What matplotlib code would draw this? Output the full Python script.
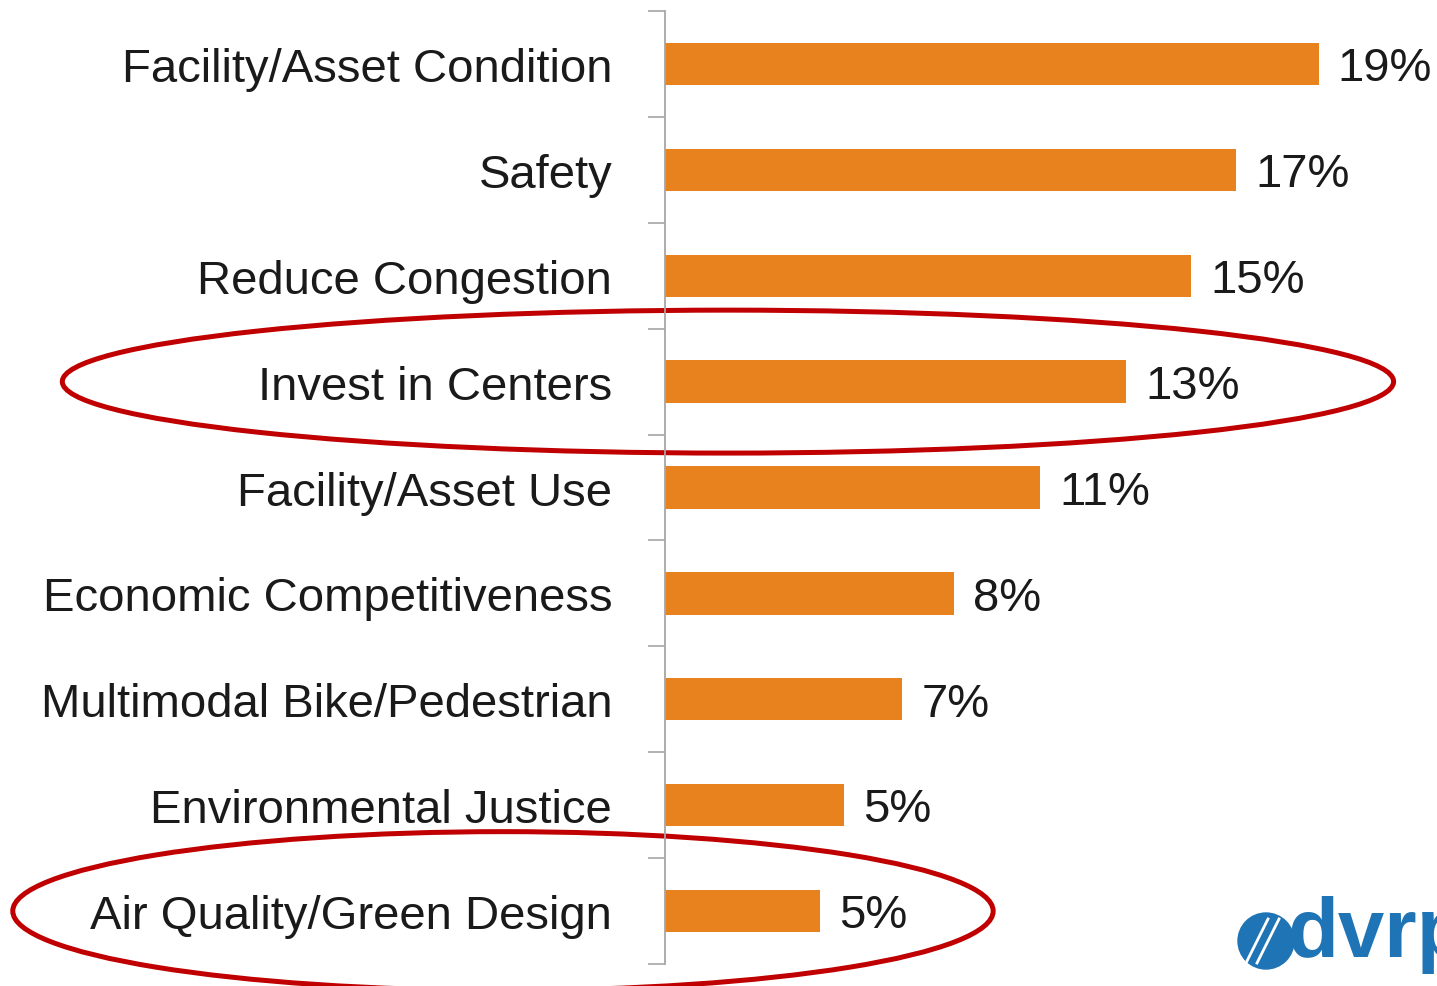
import matplotlib.pyplot as plt
import numpy as np
from matplotlib.patches import Ellipse
from matplotlib.lines import Line2D

# priorities and share of responses (bar lengths)
categories = [
    "Facility/Asset Condition",
    "Safety",
    "Reduce Congestion",
    "Invest in Centers",
    "Facility/Asset Use",
    "Economic Competitiveness",
    "Multimodal Bike/Pedestrian",
    "Environmental Justice",
    "Air Quality/Green Design",
]
values = [19.0, 16.6, 15.3, 13.4, 10.9, 8.4, 6.9, 5.2, 4.5]
value_labels = ["19%", "17%", "15%", "13%", "11%", "8%", "7%", "5%", "5%"]
highlighted = ["Invest in Centers", "Air Quality/Green Design"]

bar_color = "#E8821E"
circle_color = "#C00000"
logo_blue = "#1F74B5"
fam = ["Liberation Sans Narrow", "Liberation Sans", "DejaVu Sans"]

W, H = 1437, 987
fig = plt.figure(figsize=(W / 100, H / 100), dpi=100)
ax = fig.add_axes([665 / W, 22 / H, (W - 665) / W, 953 / H])

y = np.arange(len(categories))
ax.barh(y, values, height=0.4, color=bar_color)

ax.set_xlim(0, (W - 665) / 34.4)
ax.set_ylim(len(categories) - 0.5, -0.5)

for yi, v, lab in zip(y, values, value_labels):
    ax.text(v + 0.55, yi + 0.04, lab, va="center", ha="left", fontsize=34,
            family=fam, color="#1a1a1a")

ax.set_yticks(y)
ax.set_yticklabels(categories, family=fam, fontsize=34, color="#1a1a1a")
ax.tick_params(axis="y", which="major", length=0, pad=38)
ax.set_yticks(np.arange(len(categories) + 1) - 0.5, minor=True)
ax.tick_params(axis="y", which="minor", length=12, width=1.2, color="#A6A6A6")
ax.set_xticks([])

for s in ["top", "right", "bottom"]:
    ax.spines[s].set_visible(False)
ax.spines["left"].set_color("#A6A6A6")
ax.spines["left"].set_linewidth(1.3)

# red rings round the highlighted rows
ring_specs = {
    "Invest in Centers": (1.83, 38.7, 1.35),
    "Air Quality/Green Design": (-4.71, 28.5, 1.5),
}
for name in highlighted:
    cx, w, h = ring_specs[name]
    ring = Ellipse((cx, categories.index(name)), w, h, fill=False,
                   edgecolor=circle_color, linewidth=3.6, clip_on=False)
    ax.add_patch(ring)

# dvrpc logo, cut off at the right edge
fig.text(1288 / W, (H - 935) / H, "dvrpc", fontsize=60, fontweight="bold",
         color=logo_blue, va="center", ha="left", family=["Liberation Sans"])
fig.patches.append(Ellipse((1266 / W, (H - 942) / H), 56 / W, 56 / H,
                           transform=fig.transFigure, color=logo_blue, figure=fig))
for dx in (-8, 3):
    fig.lines.append(Line2D([(1254 + dx) / W, (1276 + dx) / W],
                            [(H - 964) / H, (H - 920) / H], color="white",
                            linewidth=2, transform=fig.transFigure, figure=fig))

fig.savefig("out.png", dpi=100)
